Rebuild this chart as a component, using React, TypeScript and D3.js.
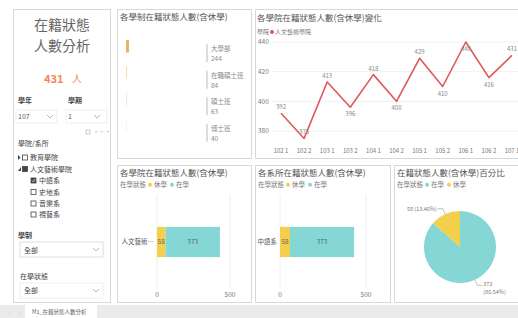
import React from 'react';
import * as d3 from 'd3';

const terms = ['102 1', '102 2', '103 1', '103 2', '104 1', '104 2', '105 1', '105 2', '106 1', '106 2', '107 1'];
const termCounts = [392, 375, 413, 396, 418, 400, 429, 410, 440, 416, 431];
const labelAbove = [true, true, true, false, true, false, true, false, false, false, true];
const yTicks = [380, 400, 420, 440];

const programs = ['大學部', '在職碩士班', '碩士班', '博士班'];
const programCounts = [244, 84, 63, 40];

const statusNames = ['休學', '在學'];
const statusCounts = [58, 373];
const collegeNames = ['人文藝術學院'];
const deptNames = ['中語系'];

const pieNames = ['在學', '休學'];
const pieCounts = [373, 58];

const axisTicks = [0, 500];

const TEAL = '#84d7d5';
const YELLOW = '#f3cf4c';
const RED = '#e15759';
const FONT = '"Noto Sans CJK TC", "Noto Sans", sans-serif';

function Panel({ x, y, w, h }) {
  return <rect x={x + 0.5} y={y + 0.5} width={w} height={h} fill="#fff" stroke="#d8d8d8" />;
}

function Legend({ x, y, items }) {
  let cx = x + 28;
  return (
    <g fontSize={6.5} fill="#777">
      <text x={x} y={y}>在學狀態</text>
      {items.map((it, i) => {
        const g = (
          <g key={i}>
            <circle cx={cx + 2} cy={y - 2.3} r={2} fill={it.color} />
            <text x={cx + 6} y={y}>{it.name}</text>
          </g>
        );
        cx += 22;
        return g;
      })}
    </g>
  );
}

function StackBar({ x0, x1, cat, labelRight }) {
  const x = d3.scaleLinear().domain([0, 500]).range([x0, x1]);
  const y = d3.scaleBand().domain([cat]).range([212, 272]).padding(0.33);
  const stack = statusCounts.map((v, i) => ({
    name: statusNames[i],
    start: d3.sum(statusCounts.slice(0, i)),
    value: v,
  }));
  return (
    <g>
      {axisTicks.map(t => (
        <g key={t}>
          <line x1={x(t)} x2={x(t)} y1={195} y2={288} stroke="#eeeeee" />
          <text x={x(t)} y={297} fontSize={6.5} fill="#777" textAnchor="middle">{t}</text>
        </g>
      ))}
      <text x={labelRight} y={y(cat) + y.bandwidth() / 2 + 2.3} fontSize={6.5} fill="#555" textAnchor="end">{cat}</text>
      {stack.map((s, i) => (
        <g key={s.name}>
          <rect x={x(s.start)} y={y(cat)} width={x(s.start + s.value) - x(s.start)} height={y.bandwidth()}
            fill={i === 0 ? YELLOW : TEAL} />
          <text x={(x(s.start) + x(s.start + s.value)) / 2} y={y(cat) + y.bandwidth() / 2 + 2.3}
            fontSize={6.5} fill="#666" textAnchor="middle">{s.value}</text>
        </g>
      ))}
    </g>
  );
}

function Chevron({ x, y }) {
  return <path d={`M${x - 3},${y - 2} L${x},${y + 1} L${x + 3},${y - 2}`} fill="none" stroke="#999" strokeWidth={0.7} />;
}

function Box({ x, y, checked, filled }) {
  return (
    <g>
      <rect x={x} y={y} width={5} height={5} fill={filled ? '#444' : checked ? '#444' : '#fff'} stroke="#444" strokeWidth={0.8} />
      {checked && <path d={`M${x + 1},${y + 2.5} L${x + 2.2},${y + 3.8} L${x + 4.2},${y + 1.2}`} fill="none" stroke="#fff" strokeWidth={0.8} />}
    </g>
  );
}

function LeftPanel() {
  return (
    <g fontFamily={FONT}>
      <Panel x={13} y={9} w={97} h={293} />
      <text x={62} y={30} fontSize={14} fill="#666" textAnchor="middle">在籍狀態</text>
      <text x={62} y={51} fontSize={14} fill="#666" textAnchor="middle">人數分析</text>
      <text x={44} y={83} fontSize={11} fill="#f0875a" fontWeight="bold">431</text>
      <text x={72} y={83} fontSize={10} fill="#f0875a">人</text>
      <g fontSize={7} fill="#444">
        <text x={18} y={103} fontWeight="bold">學年</text>
        <text x={68} y={103} fontWeight="bold">學期</text>
      </g>
      <g fontSize={7} fill="#555">
        <rect x={16} y={110} width={41} height={13} fill="#fff" stroke="#eee" />
        <text x={18} y={119}>107</text>
        <Chevron x={50} y={117} />
        <rect x={66} y={110} width={41} height={13} fill="#fff" stroke="#eee" />
        <text x={68} y={119}>1</text>
        <Chevron x={97} y={117} />
      </g>
      <g fontSize={6} fill="#aaa">
        <rect x={86} y={130} width={4} height={4} fill="none" stroke="#aaa" strokeWidth={0.6} />
        <text x={93} y={134}>···</text>
      </g>
      <g fontSize={7} fill="#444">
        <text x={18} y={146}>學院/系所</text>
        <path d="M18,155 L20.5,157.5 L18,160 Z" fill="#444" />
        <Box x={22.5} y={155} />
        <text x={30} y={160}>教育學院</text>
        <path d="M21,167 L21,171 L18,171 Z" fill="#444" />
        <Box x={22.5} y={166.5} filled />
        <text x={30} y={171.5}>人文藝術學院</text>
        <Box x={31} y={178} checked />
        <text x={39} y={183}>中語系</text>
        <Box x={31} y={189.5} />
        <text x={39} y={194.5}>史地系</text>
        <Box x={31} y={201} />
        <text x={39} y={206}>音樂系</text>
        <Box x={31} y={212} />
        <text x={39} y={217}>視藝系</text>
        <text x={18} y={238} fontWeight="bold">學制</text>
        <rect x={20} y={242} width={83} height={15} fill="#fff" stroke="#ddd" />
        <text x={24} y={252.5}>全部</text>
        <Chevron x={96} y={250} />
        <text x={20} y={279}>在學狀態</text>
        <rect x={20} y={283} width={83} height={15} fill="#fff" stroke="#f0f0f0" />
        <text x={24} y={293}>全部</text>
        <Chevron x={96} y={291} />
      </g>
    </g>
  );
}

function ProgramPanel() {
  const y = d3.scaleBand().domain(programs).range([36, 150]).padding(0.3);
  const w = d3.scaleLinear().domain([0, 244]).range([0, 3]);
  const op = d3.scaleLinear().domain([40, 244]).range([0.35, 1]);
  return (
    <g fontFamily={FONT}>
      <Panel x={117} y={9} w={134} h={149} />
      <text x={120} y={20} fontSize={8.5} fill="#555">各學制在籍狀態人數(含休學)</text>
      {programs.map((p, i) => {
        const cy = y(p) + y.bandwidth() / 2;
        return (
          <g key={p}>
            <rect x={126} y={y(p) - 4} width={w(programCounts[i])} height={y.bandwidth() - 6}
              fill="#e8b46a" opacity={op(programCounts[i])} />
            <line x1={207} x2={207} y1={cy - 9} y2={cy + 9} stroke="#aaa" strokeWidth={0.8} />
            <text x={211} y={cy - 2} fontSize={6.5} fill="#888">{p}</text>
            <text x={211} y={cy + 8} fontSize={6.5} fill="#888">{programCounts[i]}</text>
          </g>
        );
      })}
    </g>
  );
}

function TrendPanel() {
  const x = d3.scalePoint().domain(terms).range([281, 512]);
  const y = d3.scaleLinear().domain([380, 440]).range([131, 42]);
  const line = d3.line<number>().x((d, i) => x(terms[i])).y(d => y(d));
  return (
    <g fontFamily={FONT}>
      <Panel x={255} y={9} w={270} h={149} />
      <text x={257} y={21} fontSize={8.5} fill="#555">各學院在籍狀態人數(含休學)變化</text>
      <text x={257} y={34} fontSize={6} fill="#777">學院</text>
      <circle cx={272} cy={32} r={2} fill={RED} />
      <text x={275} y={34} fontSize={6} fill="#777">人文藝術學院</text>
      {yTicks.map(t => (
        <g key={t}>
          <line x1={272} x2={520} y1={y(t)} y2={y(t)} stroke="#f0f0f0" />
          <text x={258} y={y(t) + 2.3} fontSize={6.5} fill="#777">{t}</text>
        </g>
      ))}
      {terms.map(t => (
        <text key={t} x={x(t)} y={153} fontSize={6} fill="#777" textAnchor="middle">{t}</text>
      ))}
      <path d={line(termCounts)} fill="none" stroke={RED} strokeWidth={1.6} strokeLinejoin="round" />
      {termCounts.map((v, i) => (
        <text key={i} x={x(terms[i])} y={labelAbove[i] ? y(v) - 4 : y(v) + 9} fontSize={6} fill="#888" textAnchor="middle">{v}</text>
      ))}
    </g>
  );
}

function PiePanel() {
  const cx = 460, cy = 247, r = 36;
  const arcs = d3.pie<number>().sort(null)(pieCounts);
  const arc = d3.arc<d3.PieArcDatum<number>>().innerRadius(0).outerRadius(r);
  const total = d3.sum(pieCounts);
  const pct = (v: number) => (v / total * 100).toFixed(2) + '%';
  const edge = (a, rr) => {
    const m = (a.startAngle + a.endAngle) / 2;
    return [cx + Math.sin(m) * rr, cy - Math.cos(m) * rr];
  };
  const t0 = edge(arcs[0], r);
  const t0b = edge(arcs[0], r + 6);
  const t1 = edge(arcs[1], r);
  const t1b = edge(arcs[1], r + 6);
  return (
    <g fontFamily={FONT}>
      <Panel x={394} y={165} w={130} h={137} />
      <text x={397} y={176} fontSize={8.5} fill="#555">在籍狀態人數(含休學)百分比</text>
      <g fontSize={6.5} fill="#777">
        <text x={397} y={187}>在學狀態</text>
        <circle cx={427} cy={184.7} r={2} fill={TEAL} />
        <text x={431} y={187}>{pieNames[0]}</text>
        <circle cx={449} cy={184.7} r={2} fill={YELLOW} />
        <text x={453} y={187}>{pieNames[1]}</text>
      </g>
      <g transform={`translate(${cx},${cy})`}>
        {arcs.map((a, i) => (
          <path key={i} d={arc(a)} fill={i === 0 ? TEAL : YELLOW} />
        ))}
      </g>
      <polyline points={`${t1[0]},${t1[1]} ${t1b[0]},${t1b[1]} ${t1b[0] - 5},${t1b[1]}`} fill="none" stroke="#999" strokeWidth={0.6} />
      <text x={t1b[0] - 6} y={t1b[1] + 2} fontSize={5.5} fill="#777" textAnchor="end">{pieCounts[1]} ({pct(pieCounts[1])})</text>
      <polyline points={`${t0[0]},${t0[1]} ${t0b[0]},${t0b[1]} ${t0b[0] + 5},${t0b[1]}`} fill="none" stroke="#999" strokeWidth={0.6} />
      <text x={t0b[0] + 6} y={t0b[1] + 1} fontSize={5.5} fill="#777">{pieCounts[0]}</text>
      <text x={t0b[0] + 6} y={t0b[1] + 9} fontSize={5.5} fill="#777">({pct(pieCounts[0])})</text>
    </g>
  );
}

export default function App() {
  const legendItems = [
    { name: statusNames[0], color: YELLOW },
    { name: statusNames[1], color: TEAL },
  ];
  return (
    <div style={{ position: 'fixed', left: 0, top: 0 }}>
      <svg width={518} height={318} style={{ display: 'block' }} fontFamily={FONT}>
        <rect width={518} height={318} fill="#fff" />
        <LeftPanel />
        <ProgramPanel />
        <TrendPanel />

        <g fontFamily={FONT}>
          <Panel x={117} y={165} w={134} h={137} />
          <text x={120} y={176} fontSize={8.5} fill="#555">各學院在籍狀態人數(含休學)</text>
          <Legend x={120} y={187} items={legendItems} />
          <StackBar x0={157} x1={230} cat={collegeNames[0].slice(0, 4) + '…'} labelRight={154} />
        </g>

        <g fontFamily={FONT}>
          <Panel x={255} y={165} w={135} h={137} />
          <text x={258} y={176} fontSize={8.5} fill="#555">各系所在籍狀態人數(含休學)</text>
          <Legend x={258} y={187} items={legendItems} />
          <StackBar x0={280} x1={366} cat={deptNames[0]} labelRight={277} />
        </g>

        <PiePanel />

        <rect x={0} y={305} width={518} height={13} fill="#ebebeb" />
        <rect x={25} y={305} width={72} height={13} fill="#fff" />
        <text x={9} y={314} fontSize={6} fill="#bbb">‹</text>
        <text x={18} y={314} fontSize={6} fill="#bbb">›</text>
        <text x={32} y={314} fontSize={5.5} fill="#666">M1_在籍狀態人數分析</text>
      </svg>
    </div>
  );
}
